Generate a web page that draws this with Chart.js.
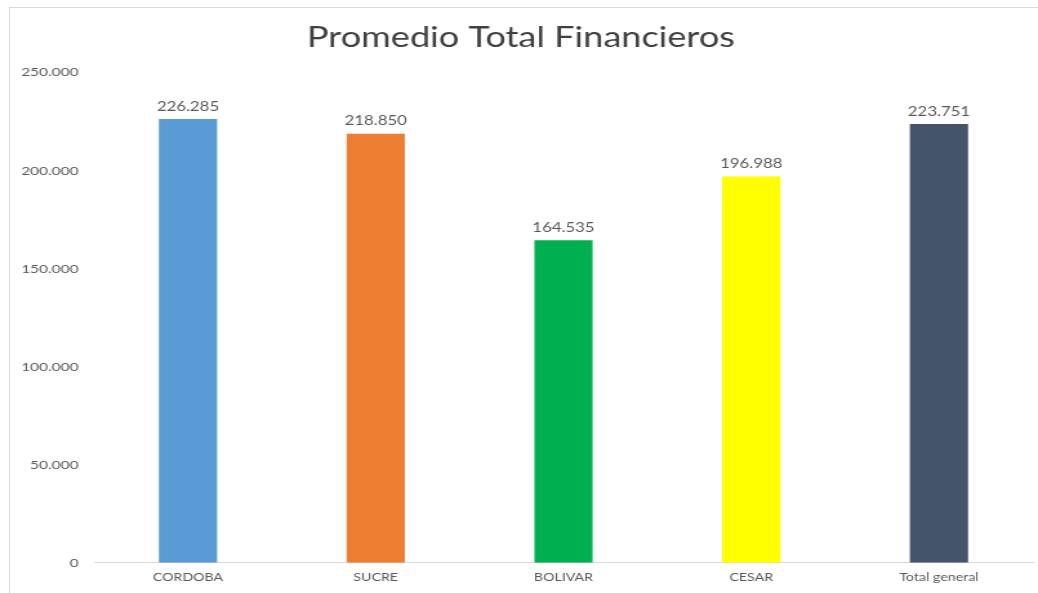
<!DOCTYPE html>
<html>
<head>
<meta charset="utf-8">
<script src="https://cdn.jsdelivr.net/npm/chart.js@4.4.0/dist/chart.umd.min.js"></script>
<style>
  html, body { margin: 0; padding: 0; background: #fff; overflow: hidden; }
  #frame { position: absolute; left: 9px; top: 7px; width: 1100px; height: 700px; border: 1px solid #d9d9d9; }
  /* the reference is stretched sideways, so draw narrow and widen */
  #wrap { position: absolute; left: 0; top: 0; width: 805px; height: 593px;
          transform: scaleX(1.28944); transform-origin: 0 0; }
</style>
</head>
<body>
<div id="frame"></div>
<div id="wrap"><canvas id="chart" width="805" height="593"></canvas></div>
<script>
// Promedio total por departamento
const categories = ['CORDOBA', 'SUCRE', 'BOLIVAR', 'CESAR', 'Total general'];
const values = [226285, 218850, 164535, 196988, 223751];
const barColors = ['#5B9BD5', '#ED7D31', '#00B050', '#FFFF00', '#44546A'];
const tickMax = 250000;
const tickStep = 50000;

// 226285 -> "226.285"
function fmt(v) {
    return String(v).replace(/\B(?=(\d{3})+(?!\d))/g, '.');
}

// Draw value labels above each bar
const valueLabels = {
    id: 'valueLabels',
    afterDatasetsDraw(chart) {
        const ctx = chart.ctx;
        const meta = chart.getDatasetMeta(0);
        ctx.save();
        ctx.font = '13px Lato, sans-serif';
        ctx.fillStyle = '#595959';
        ctx.textAlign = 'center';
        ctx.textBaseline = 'bottom';
        meta.data.forEach((bar, i) => {
            ctx.fillText(fmt(values[i]), bar.x, bar.y - 6);
        });
        ctx.restore();
    }
};

const ctx = document.getElementById('chart').getContext('2d');
new Chart(ctx, {
    type: 'bar',
    data: {
        labels: categories,
        datasets: [{
            data: values,
            backgroundColor: barColors,
            borderWidth: 0,
            categoryPercentage: 1,
            barPercentage: 0.31
        }]
    },
    options: {
        responsive: false,
        animation: false,
        layout: { padding: { left: 7, right: 4, top: 0, bottom: 1 } },
        plugins: {
            legend: { display: false },
            tooltip: { enabled: false },
            title: {
                display: true,
                text: 'Promedio Total Financieros',
                color: '#404040',
                font: { family: 'Lato, sans-serif', size: 28, weight: 'normal' },
                padding: { top: 21, bottom: 18 }
            }
        },
        scales: {
            x: {
                grid: { display: false, drawTicks: false },
                border: { display: true, color: '#d9d9d9', width: 1 },
                ticks: { color: '#595959', font: { family: 'Lato, sans-serif', size: 11 }, padding: 8 }
            },
            y: {
                min: 0,
                max: tickMax,
                grid: { display: false, drawTicks: false },
                border: { display: false },
                ticks: {
                    stepSize: tickStep,
                    color: '#595959',
                    font: { family: 'Lato, sans-serif', size: 12 },
                    padding: 12,
                    callback: v => fmt(v)
                },
                afterFit: s => { s.width = 66; }
            }
        }
    },
    plugins: [valueLabels]
});
</script>
</body>
</html>
